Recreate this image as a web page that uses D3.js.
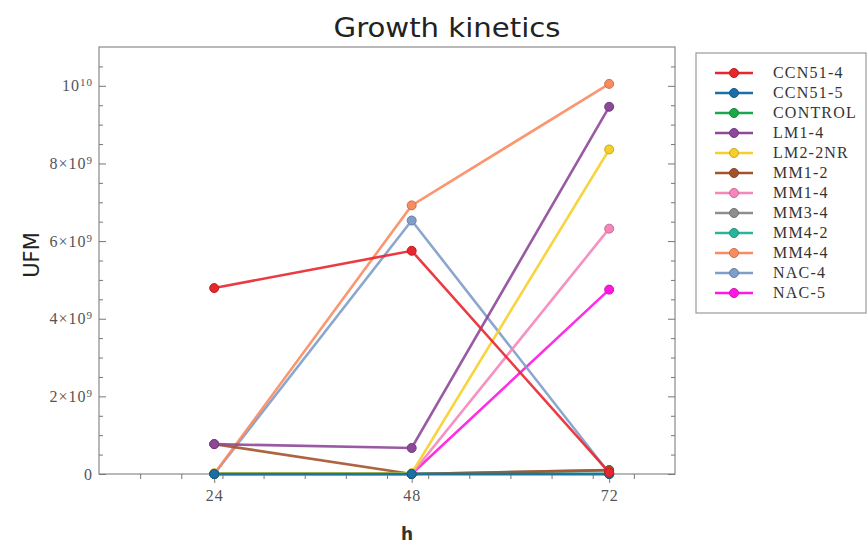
<!DOCTYPE html>
<html>
<head>
<meta charset="utf-8">
<script src="https://cdn.jsdelivr.net/npm/d3@7"></script>
<style>
  body { margin: 0; background: #fff; }
  svg { display: block; }
</style>
</head>
<body>
<div id="chart"></div>
<script>
// hours on the x axis
const hours = [24, 48, 72];

const series_names = ["CCN51-4", "CCN51-5", "CONTROL", "LM1-4", "LM2-2NR", "MM1-2",
  "MM1-4", "MM3-4", "MM4-2", "MM4-4", "NAC-4", "NAC-5"];
const series_colors = ["#e8262e", "#1b6fa6", "#1ca84c", "#8e4899", "#f7cf2b", "#a3532c",
  "#f585ba", "#8e8e8e", "#2ab59b", "#f98b60", "#7f9dc9", "#ff17e2"];

// UFM values, one array per strain (24h, 48h, 72h)
const ccn51_4 = [4.79e9, 5.75e9, 0.04e9];
const ccn51_5 = [0, 0, 0];
const control = [0, 0, 0];
const lm1_4 = [0.77e9, 0.67e9, 9.46e9];
const lm2_2nr = [0.02e9, 0.02e9, 8.36e9];
const mm1_2 = [0.77e9, 0, 0.1e9];
const mm1_4 = [0, 0, 6.32e9];
const mm3_4 = [0, 0, 0.1e9];
const mm4_2 = [0, 0, 0];
const mm4_4 = [0, 6.92e9, 10.05e9];
const nac_4 = [0, 6.53e9, 0.02e9];
const nac_5 = [0, 0, 4.75e9];
const all_values = [ccn51_4, ccn51_5, control, lm1_4, lm2_2nr, mm1_2,
  mm1_4, mm3_4, mm4_2, mm4_4, nac_4, nac_5];

// y tick labels: [mantissa, exponent]
const y_ticks = [0, 2e9, 4e9, 6e9, 8e9, 1e10];
const y_tick_labels = [["0", ""], ["2\u00d710", "9"], ["4\u00d710", "9"], ["6\u00d710", "9"],
  ["8\u00d710", "9"], ["10", "10"]];

const W = 868, H = 544;
const plot = {left: 99, right: 675, top: 47, bottom: 474};

const svg = d3.select("#chart").append("svg")
  .attr("width", W)
  .attr("height", H);

const x = d3.scaleLinear().domain([10, 80]).range([plot.left, plot.right]);
const y = d3.scaleLinear().domain([0, 1.1e10]).range([plot.bottom, plot.top]);

// frame
svg.append("rect")
  .attr("x", plot.left).attr("y", plot.top)
  .attr("width", plot.right - plot.left)
  .attr("height", plot.bottom - plot.top)
  .attr("fill", "none")
  .attr("stroke", "#8a8a8a")
  .attr("stroke-width", 1.2);

function styleAxis(g) {
  g.select(".domain").remove();
  g.selectAll(".tick line").attr("stroke", "#777");
  g.selectAll("text")
    .attr("font-family", "'Liberation Serif', 'Times New Roman', serif")
    .attr("font-size", 16)
    .attr("letter-spacing", 1)
    .attr("fill", "#555");
}

// x minor ticks
svg.append("g")
  .attr("transform", "translate(0," + plot.bottom + ")")
  .call(d3.axisBottom(x).tickValues(d3.range(15, 80, 5)).tickSize(5).tickFormat(""))
  .call(styleAxis);
// x major ticks
svg.append("g")
  .attr("transform", "translate(0," + plot.bottom + ")")
  .call(d3.axisBottom(x).tickValues(hours).tickSize(9).tickPadding(7).tickFormat(d3.format("d")))
  .call(styleAxis);

// y minor ticks, left and right, pointing inside
let minor_y = d3.range(5e8, 1.1e10, 5e8).filter(v => !y_ticks.includes(v));
svg.append("g")
  .attr("transform", "translate(" + plot.left + ",0)")
  .call(d3.axisLeft(y).tickValues(minor_y).tickSize(-4).tickFormat(""))
  .call(styleAxis);
svg.append("g")
  .attr("transform", "translate(" + plot.right + ",0)")
  .call(d3.axisRight(y).tickValues(minor_y).tickSize(-4).tickFormat(""))
  .call(styleAxis);
svg.append("g")
  .attr("transform", "translate(" + plot.right + ",0)")
  .call(d3.axisRight(y).tickValues(y_ticks).tickSize(-7).tickFormat(""))
  .call(styleAxis);

let yAxis = svg.append("g")
  .attr("transform", "translate(" + plot.left + ",0)")
  .call(d3.axisLeft(y).tickValues(y_ticks).tickSize(-7).tickPadding(6).tickFormat(""))
  .call(styleAxis);
yAxis.selectAll(".tick text").each(function(d, i) {
  let t = d3.select(this);
  t.append("tspan").text(y_tick_labels[i][0]);
  if (y_tick_labels[i][1]) {
    t.append("tspan")
      .attr("dy", "-0.45em")
      .attr("font-size", 11)
      .text(y_tick_labels[i][1]);
  }
});

// lines, drawn last-to-first so the first strains sit on top
const line = d3.line()
  .x((d, i) => x(hours[i]))
  .y(d => y(d));

for (let s = series_names.length - 1; s >= 0; s--) {
  let g = svg.append("g").attr("class", "series");
  g.append("path")
    .datum(all_values[s])
    .attr("d", line)
    .attr("fill", "none")
    .attr("stroke", series_colors[s])
    .attr("stroke-width", 2.6)
    .attr("stroke-opacity", 0.9);
  g.selectAll("circle")
    .data(all_values[s])
    .enter().append("circle")
    .attr("cx", (d, i) => x(hours[i]))
    .attr("cy", d => y(d))
    .attr("r", 4.5)
    .attr("fill", series_colors[s])
    .attr("stroke", d3.color(series_colors[s]).darker(0.6))
    .attr("stroke-width", 1);
}

// title and axis labels (source image is stretched sideways a little)
svg.append("text")
  .attr("transform", "translate(447,37) scale(1.08,1)")
  .attr("text-anchor", "middle")
  .attr("font-family", "'DejaVu Sans', Verdana, sans-serif")
  .attr("font-size", 27)
  .attr("fill", "#222")
  .text("Growth kinetics");

svg.append("text")
  .attr("transform", "translate(39,255) rotate(-90)")
  .attr("text-anchor", "middle")
  .attr("font-family", "'DejaVu Sans', Verdana, sans-serif")
  .attr("font-size", 21)
  .attr("fill", "#222")
  .text("UFM");

svg.append("text")
  .attr("x", 407).attr("y", 540)
  .attr("text-anchor", "middle")
  .attr("font-family", "'DejaVu Sans', Verdana, sans-serif")
  .attr("font-size", 17)
  .attr("font-weight", "bold")
  .attr("fill", "#333")
  .text("h");

// legend
const legend = svg.append("g").attr("transform", "translate(696,53)");
legend.append("rect")
  .attr("width", 170).attr("height", 260)
  .attr("fill", "#fff")
  .attr("stroke", "#999")
  .attr("stroke-width", 1.2);

const items = legend.selectAll(".item")
  .data(series_names)
  .enter().append("g")
  .attr("class", "item")
  .attr("transform", (d, i) => "translate(0," + (20 + i * 20) + ")");
items.append("line")
  .attr("x1", 19).attr("x2", 57)
  .attr("stroke", (d, i) => series_colors[i])
  .attr("stroke-width", 2.6);
items.append("circle")
  .attr("cx", 38).attr("r", 4.5)
  .attr("fill", (d, i) => series_colors[i])
  .attr("stroke", (d, i) => d3.color(series_colors[i]).darker(0.6));
items.append("text")
  .attr("x", 77).attr("y", 5)
  .attr("font-family", "'Liberation Serif', 'Times New Roman', serif")
  .attr("font-size", 16)
  .attr("letter-spacing", 1.2)
  .attr("fill", "#333")
  .text(d => d);
</script>
</body>
</html>
